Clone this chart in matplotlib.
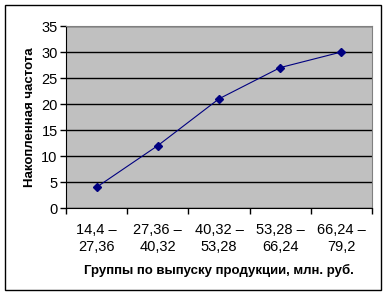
import matplotlib
matplotlib.use('Agg')
import matplotlib.pyplot as plt
import numpy as np

plt.rcParams['font.family'] = ['Liberation Sans', 'DejaVu Sans']

# данные
groups = ['14,4 –\n27,36', '27,36 –\n40,32', '40,32 –\n53,28', '53,28 –\n66,24', '66,24 –\n79,2']
cum_freq = [4, 12, 21, 27, 30]

fig = plt.figure(figsize=(3.88, 2.96), dpi=100)
fig.patch.set_facecolor('white')

# внешняя рамка
fig.patches.append(plt.Rectangle((5 / 388, 1 - 290 / 296), 376 / 388, 285 / 296,
                                 transform=fig.transFigure, fill=False,
                                 edgecolor='black', linewidth=1))

ax = fig.add_axes([66 / 388, 1 - 208 / 296, 306 / 388, 182 / 296])
ax.set_facecolor('#C0C0C0')

x = np.arange(len(groups))
ax.plot(x, cum_freq, color='#000080', linewidth=0.8, marker='D', markersize=3.8,
        markerfacecolor='#000080', markeredgecolor='#000080', zorder=3)

ax.set_xlim(-0.5, len(groups) - 0.5)
ax.set_ylim(0, 35)
ax.set_yticks(range(0, 36, 5))
ax.yaxis.grid(True, color='black', linewidth=1)
ax.set_axisbelow(True)

ax.set_xticks(np.arange(-0.5, len(groups), 1.0))
ax.set_xticklabels([])
ax.set_xticks(x, minor=True)
ax.set_xticklabels(groups, minor=True, fontsize=10.5, linespacing=1.25)
ax.tick_params(axis='x', which='minor', length=0, pad=11)
ax.tick_params(axis='x', which='major', length=4, direction='out', width=1)
ax.tick_params(axis='y', length=4, direction='out', width=1, labelsize=10.5, pad=2)

for s in ['top', 'right']:
    ax.spines[s].set_color('#808080')
    ax.spines[s].set_linewidth(0.8)
ax.spines['left'].set_color('black')
ax.spines['bottom'].set_color('black')

ax.set_ylabel('Накопленная частота', fontsize=9.5, fontweight='bold', labelpad=4)
ax.set_xlabel('Группы по выпуску продукции, млн. руб.', fontsize=9.5, fontweight='bold', labelpad=7)

fig.savefig('out.png', dpi=100)
